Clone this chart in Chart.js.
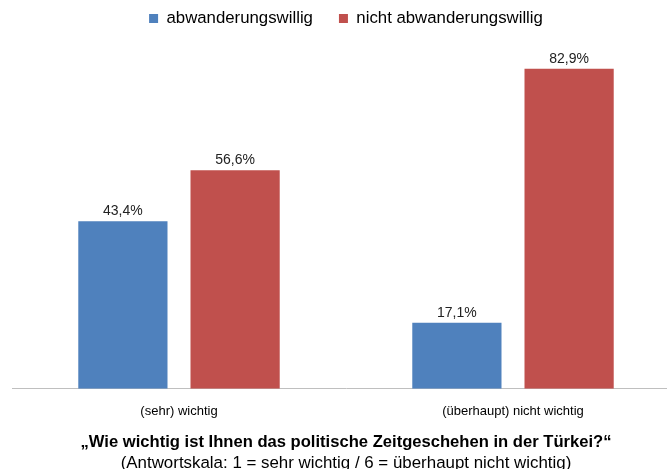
<!DOCTYPE html>
<html lang="de">
<head>
<meta charset="utf-8">
<script src="https://cdn.jsdelivr.net/npm/chart.js@4"></script>
<style>
    html, body { margin: 0; padding: 0; background: #fff; overflow: hidden; }
    #wrap { width: 680px; height: 469px; position: relative; }
</style>
</head>
<body>
<div id="wrap"><canvas id="barChart"></canvas></div>
<script>
/* =======================
   DATEN
======================= */

const KATEGORIEN = ["(sehr) wichtig", "(überhaupt) nicht wichtig"];
const SERIEN = ["abwanderungswillig", "nicht abwanderungswillig"];
const WERTE_ABW = [43.4, 17.1];
const WERTE_NICHT_ABW = [56.6, 82.9];
const FARBEN = ["#4F81BD", "#C0504D"];

const TITEL = "„Wie wichtig ist Ihnen das politische Zeitgeschehen in der Türkei?“";
const UNTERTITEL = "(Antwortskala: 1 = sehr wichtig / 6 = überhaupt nicht wichtig)";

const SCHRIFT = "'Liberation Sans', Arial, sans-serif";

/* =======================
   PLUGIN WERTE
======================= */

const werteLabels = {
    id: "werteLabels",
    afterDatasetsDraw(chart) {
        const ctx = chart.ctx;
        ctx.save();
        ctx.font = "14px " + SCHRIFT;
        ctx.fillStyle = "#222";
        ctx.textAlign = "center";
        ctx.textBaseline = "bottom";
        chart.data.datasets.forEach((ds, i) => {
            chart.getDatasetMeta(i).data.forEach((bar, j) => {
                const txt = ds.data[j].toFixed(1).replace(".", ",") + "%";
                ctx.fillText(txt, bar.x, bar.y - 3);
            });
        });
        ctx.restore();
    }
};

/* =======================
   CHART
======================= */

const ctx = document.getElementById("barChart").getContext("2d");

new Chart(ctx, {
    type: "bar",
    data: {
        labels: KATEGORIEN,
        datasets: [
            { label: SERIEN[0], data: WERTE_ABW, backgroundColor: FARBEN[0] },
            { label: SERIEN[1], data: WERTE_NICHT_ABW, backgroundColor: FARBEN[1] }
        ]
    },
    options: {
        responsive: true,
        maintainAspectRatio: false,
        animation: false,
        datasets: {
            bar: { categoryPercentage: 0.672, barPercentage: 0.795 }
        },
        layout: { padding: { top: -16, left: 12, right: 0, bottom: -4 } },
        scales: {
            x: {
                grid: { display: false, drawTicks: false },
                border: { display: true, color: "#BFBFBF", width: 1 },
                ticks: {
                    color: "#000",
                    padding: 15,
                    font: { family: SCHRIFT, size: 13 }
                }
            },
            y: {
                display: false,
                min: 0,
                max: 91.16
            }
        },
        plugins: {
            legend: {
                position: "top",
                labels: {
                    boxWidth: 9,
                    boxHeight: 9,
                    padding: 26,
                    color: "#000",
                    font: { family: SCHRIFT, size: 16.8 }
                }
            },
            title: {
                display: true,
                position: "bottom",
                weight: 10,
                text: TITEL,
                color: "#000",
                padding: { top: -1.6, bottom: 0 },
                font: { family: SCHRIFT, size: 16.6, weight: "bold" }
            },
            subtitle: {
                display: true,
                position: "bottom",
                weight: 20,
                text: UNTERTITEL,
                color: "#000",
                padding: { top: 0, bottom: 0 },
                font: { family: SCHRIFT, size: 16.9 }
            },
            tooltip: { enabled: false }
        }
    },
    plugins: [werteLabels]
});
</script>
</body>
</html>
